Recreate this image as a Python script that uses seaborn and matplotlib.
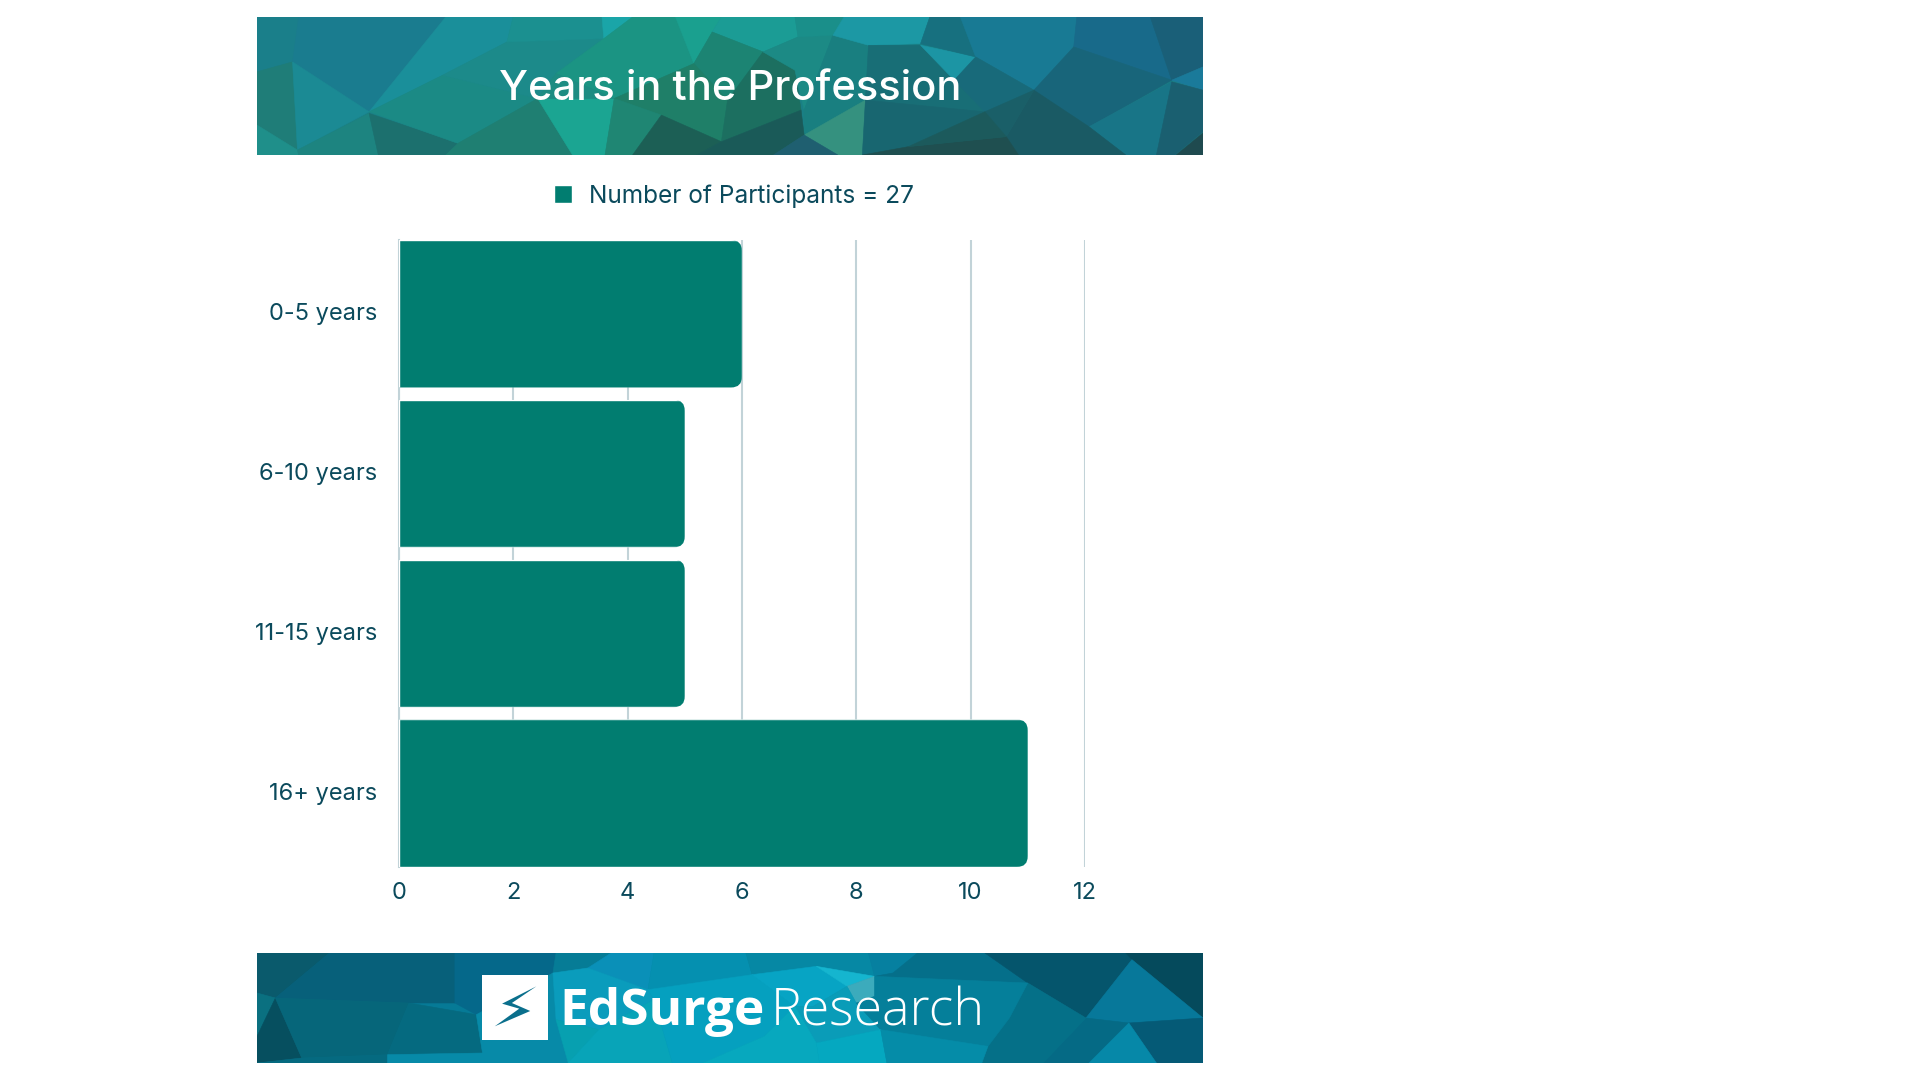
import matplotlib
matplotlib.use("Agg")
import matplotlib.pyplot as plt
import pandas as pd
import seaborn as sns
from matplotlib.patches import FancyBboxPatch, Polygon, Rectangle
from matplotlib.transforms import ScaledTranslation

# Survey counts
categories = ["0-5 years", "6-10 years", "11-15 years", "16+ years"]
participants = [6, 5, 5, 11]
x_ticks = [0, 2, 4, 6, 8, 10, 12]
series_label = "Number of Participants = 27"
title_text = "Years in the Profession"

W, H = 1920, 1080
INK = "#0B4A5C"
BAR = "#017D70"
GRID = "#C2D3D8"
FONT = ["Inter", "DejaVu Sans"]

# Low-poly banner artwork, as (colour, outline) facets in banner-local units
TOP_FACETS = [
    ("#1A7F8A", [(12, 20), (80, 20), (70, 155), (12, 185)]),
    ("#1A7C8F", [(80, 20), (320, 20), (195, 305), (70, 155)]),
    ("#1F7D78", [(12, 185), (70, 155), (78, 420), (12, 345)]),
    ("#1B8A94", [(70, 155), (195, 305), (78, 420)]),
    ("#1A8F9A", [(320, 20), (430, 20), (420, 95), (315, 195), (195, 305)]),
    ("#1F8F8A", [(12, 345), (78, 420), (80, 435), (12, 435)]),
    ("#1D8480", [(78, 420), (195, 310), (210, 435), (80, 435)]),
    ("#1C706E", [(195, 310), (340, 400), (320, 435), (210, 435)]),
    ("#1B8A85", [(195, 305), (315, 195), (470, 265), (340, 400)]),
    ("#1C8A8A", [(315, 195), (420, 95), (578, 85), (500, 190), (470, 265)]),
    ("#1F7F72", [(340, 400), (470, 265), (527, 435), (320, 435)]),
    ("#1BA592", [(470, 265), (595, 265), (580, 435), (527, 435)]),
    ("#1B9090", [(430, 20), (575, 20), (578, 85), (420, 95)]),
    ("#1AA5A8", [(575, 20), (625, 20), (578, 85)]),
    ("#1B9483", [(578, 85), (625, 20), (695, 20), (725, 160), (595, 265), (500, 190)]),
    ("#1D8C82", [(500, 190), (595, 265), (470, 265)]),
    ("#1AA08F", [(695, 20), (770, 20), (755, 65), (725, 160)]),
    ("#1B9C95", [(770, 20), (890, 20), (895, 80), (838, 125), (755, 65)]),
    ("#1C8473", [(755, 65), (838, 125), (780, 270), (725, 160)]),
    ("#1F7F68", [(725, 160), (780, 270), (770, 395), (672, 315), (595, 265)]),
    ("#1F8673", [(595, 265), (672, 315), (625, 435), (580, 435)]),
    ("#1C5F55", [(672, 315), (770, 395), (730, 435), (625, 435)]),
    ("#1C6F60", [(838, 125), (890, 180), (900, 300), (770, 395), (780, 270)]),
    ("#1C8A85", [(895, 80), (952, 75), (905, 300), (890, 180), (838, 125)]),
    ("#1A8F8A", [(890, 20), (970, 20), (952, 75), (895, 80)]),
    ("#197F80", [(952, 75), (1010, 105), (1005, 270), (905, 375), (905, 300)]),
    ("#1C98A4", [(970, 20), (1110, 20), (1095, 100), (1010, 105), (952, 75)]),
    ("#35917F", [(905, 375), (1005, 270), (1000, 435), (960, 435)]),
    ("#1A5A58", [(900, 300), (905, 375), (855, 435), (730, 435), (770, 395)]),
    ("#1F5F70", [(905, 375), (960, 435), (855, 435)]),
    ("#186E76", [(1010, 105), (1095, 105), (1150, 210), (1200, 305), (1005, 270)]),
    ("#1C95A4", [(1095, 105), (1185, 140), (1150, 210)]),
    ("#17707F", [(1110, 20), (1160, 20), (1185, 140), (1095, 100)]),
    ("#187A94", [(1160, 20), (1350, 20), (1345, 110), (1280, 240), (1185, 140)]),
    ("#186A7A", [(1185, 140), (1280, 240), (1200, 305), (1150, 210)]),
    ("#186A8A", [(1350, 20), (1470, 20), (1505, 210), (1345, 110)]),
    ("#1A5F78", [(1470, 20), (1556, 20), (1556, 170), (1505, 210)]),
    ("#18657A", [(1345, 110), (1505, 210), (1370, 350), (1280, 240)]),
    ("#1A7A9A", [(1505, 210), (1556, 170), (1556, 240)]),
    ("#187587", [(1505, 215), (1480, 435), (1430, 435), (1370, 350)]),
    ("#1A5F70", [(1505, 215), (1556, 240), (1556, 365), (1510, 435), (1480, 435)]),
    ("#1F4A4F", [(1556, 365), (1556, 435), (1510, 435)]),
    ("#1A5A64", [(1280, 240), (1370, 350), (1430, 435), (1255, 435), (1235, 380)]),
    ("#1A5F68", [(1200, 305), (1280, 240), (1235, 380)]),
    ("#186670", [(1005, 270), (1200, 305), (1075, 410), (1000, 435)]),
    ("#1F4F50", [(1075, 410), (1235, 380), (1255, 435), (1000, 435)]),
    ("#1C5A5C", [(1200, 305), (1235, 380), (1075, 410)]),
]

BOTTOM_FACETS = [
    ("#0A5A6C", [(12, 40), (130, 40), (42, 175), (12, 160)]),
    ("#07607A", [(130, 40), (335, 40), (335, 190), (260, 190), (42, 175)]),
    ("#0A7080", [(12, 160), (42, 175), (12, 290)]),
    ("#064F5F", [(42, 175), (85, 355), (12, 370), (12, 290)]),
    ("#06667A", [(42, 175), (260, 190), (225, 345), (85, 355)]),
    ("#056A80", [(85, 355), (225, 345), (225, 370), (12, 370)]),
    ("#056A80", [(260, 190), (370, 225), (380, 340), (225, 345)]),
    ("#05688A", [(335, 40), (500, 40), (495, 100), (370, 225), (335, 190)]),
    ("#067C96", [(500, 40), (590, 40), (552, 85), (495, 100)]),
    ("#0A90B8", [(590, 40), (660, 40), (650, 150), (552, 85)]),
    ("#0590B0", [(660, 40), (810, 40), (820, 105), (650, 150)]),
    ("#0688A4", [(810, 40), (1010, 40), (1020, 110), (925, 80), (820, 105)]),
    ("#0680A0", [(1010, 40), (1090, 40), (1050, 100), (1020, 110)]),
    ("#056F8A", [(1090, 40), (1200, 40), (1270, 130), (1020, 110), (1050, 100)]),
    ("#05556C", [(1200, 40), (1430, 40), (1440, 60), (1365, 235), (1270, 130)]),
    ("#054A5C", [(1430, 40), (1556, 40), (1556, 235), (1440, 60)]),
    ("#07789A", [(1440, 60), (1556, 235), (1435, 250), (1365, 235)]),
    ("#055A76", [(1435, 250), (1556, 235), (1556, 370), (1480, 370)]),
    ("#056A85", [(1365, 235), (1435, 250), (1370, 370), (1295, 370)]),
    ("#0688A8", [(1435, 250), (1480, 370), (1370, 370)]),
    ("#057088", [(1270, 130), (1365, 235), (1295, 370), (1195, 370), (1205, 320), (1240, 235)]),
    ("#078AA8", [(370, 225), (495, 100), (500, 240), (520, 370), (225, 370), (225, 345), (380, 340)]),
    ("#0A9CBC", [(495, 100), (552, 85), (650, 150), (660, 180), (570, 270), (500, 240)]),
    ("#07A0B0", [(500, 240), (570, 270), (520, 370)]),
    ("#08A4B8", [(570, 270), (660, 180), (690, 370), (520, 370)]),
    ("#05A0BF", [(650, 150), (820, 105), (890, 200), (840, 290), (740, 370), (690, 370), (660, 180)]),
    ("#07A4C4", [(820, 105), (925, 80), (975, 140), (920, 200), (890, 200)]),
    ("#15B5CF", [(925, 80), (1020, 110), (975, 140)]),
    ("#3CABBC", [(975, 140), (1020, 110), (1020, 170), (990, 190)]),
    ("#0A9CB8", [(920, 200), (975, 140), (990, 190), (1030, 270), (925, 310), (890, 200)]),
    ("#057F9A", [(1020, 110), (1270, 130), (1240, 235), (1205, 320), (1030, 270), (990, 190), (1020, 170)]),
    ("#07A8BE", [(840, 290), (890, 200), (925, 310), (930, 370), (740, 370)]),
    ("#05A8C0", [(925, 310), (1030, 270), (1040, 370), (930, 370)]),
    ("#058CA8", [(1030, 270), (1205, 320), (1195, 370), (1040, 370)]),
]

BOLT = [(468, 140), (412, 192), (440, 207), (400, 260), (458, 214), (428, 190)]


def axes_px(fig, left, top, right, bottom):
    """Create axes from pixel bounds measured from the top-left corner."""
    return fig.add_axes([left / W, 1 - bottom / H, (right - left) / W, (bottom - top) / H])


def draw_banner(fig, box, extent, base, facets):
    ax = axes_px(fig, *box)
    ax.set_xlim(extent[0], extent[1])
    ax.set_ylim(extent[3], extent[2])
    ax.axis("off")
    ax.add_patch(Rectangle((extent[0], extent[2]), extent[1] - extent[0], extent[3] - extent[2],
                           color=base, lw=0))
    for colour, outline in facets:
        ax.add_patch(Polygon(outline, closed=True, facecolor=colour, edgecolor=colour, lw=0.4))
    return ax


sns.set_theme(style="white")
plt.rcParams["font.family"] = FONT

fig = plt.figure(figsize=(W / 100, H / 100), dpi=100, facecolor="white")

# Header banner and title
draw_banner(fig, (257, 17, 1203, 155), (12, 1556, 20, 435), "#1A7F85", TOP_FACETS)
fig.text(730 / W, 1 - 89 / H, title_text, ha="center", va="center", color="white",
         fontsize=30, fontweight="medium", family=FONT)

# Footer banner with the wordmark
foot = draw_banner(fig, (257, 953, 1203, 1063), (12, 1556, 40, 370), "#067A96", BOTTOM_FACETS)
foot.add_patch(Rectangle((380, 105), 107, 195, facecolor="white", edgecolor="none", zorder=5))
foot.add_patch(Polygon(BOLT, closed=True, facecolor="#0A6F8C", edgecolor="none", zorder=6))
fig.text(559 / W, 1 - 1025 / H, "EdSurge", ha="left", va="baseline", color="white",
         fontsize=37, fontweight="bold", family=["Open Sans", "DejaVu Sans"])
fig.text(771 / W, 1 - 1025 / H, "Research", ha="left", va="baseline", color="white",
         fontsize=37.4, fontweight="light", family=["Open Sans", "DejaVu Sans"])

# Horizontal bar chart
ax = axes_px(fig, 399, 240, 1085, 867)
frame = pd.DataFrame({"category": categories, "participants": participants})
sns.barplot(data=frame, y="category", x="participants", orient="h", color=BAR, saturation=1,
            width=0.923, ax=ax, label=series_label, zorder=3)

handles, labels = ax.get_legend_handles_labels()
ax.get_legend().remove()

ax.set_xlim(0, 12)
ax.set_ylim(3.4615, -0.4615)
ax.set_xticks(x_ticks)
ax.set_xlabel("")
ax.set_ylabel("")
ax.set_facecolor("none")
ax.grid(axis="x", color=GRID, lw=1.5, zorder=0)
ax.grid(axis="y", visible=False)
ax.set_axisbelow(True)
for side in ("top", "right", "bottom"):
    ax.spines[side].set_visible(False)
ax.spines["left"].set_color(GRID)
ax.spines["left"].set_linewidth(1.5)
ax.tick_params(axis="x", length=0, pad=11, labelsize=17, labelcolor=INK)
ax.tick_params(axis="y", length=0, pad=16, labelsize=17, labelcolor=INK)

# Nudge the category labels up to sit on the bar centres
nudge = ScaledTranslation(0, 1.5 / 72, fig.dpi_scale_trans)
for label in ax.get_yticklabels():
    label.set_transform(label.get_transform() + nudge)

# Round the right-hand corners of each bar
fig.canvas.draw()
RADIUS = 11
for bar in ax.patches:
    (x0, y0), (x1, y1) = ax.transData.transform(bar.get_bbox().get_points())
    ylo, yhi = min(y0, y1), max(y0, y1)
    clip = FancyBboxPatch((x0 - 30, ylo), x1 - x0 + 30, yhi - ylo,
                          boxstyle=f"round,pad=0,rounding_size={RADIUS}",
                          transform=None)
    bar.set_clip_path(clip)

leg = fig.legend(handles, labels, loc="center left", bbox_to_anchor=(554 / W, 1 - 196 / H),
                 frameon=False, fontsize=17.6, labelcolor=INK, handlelength=0.74, handleheight=0.74,
                 handletextpad=0.7, borderpad=0, borderaxespad=0)

fig.savefig("out.png", dpi=100, facecolor="white")
